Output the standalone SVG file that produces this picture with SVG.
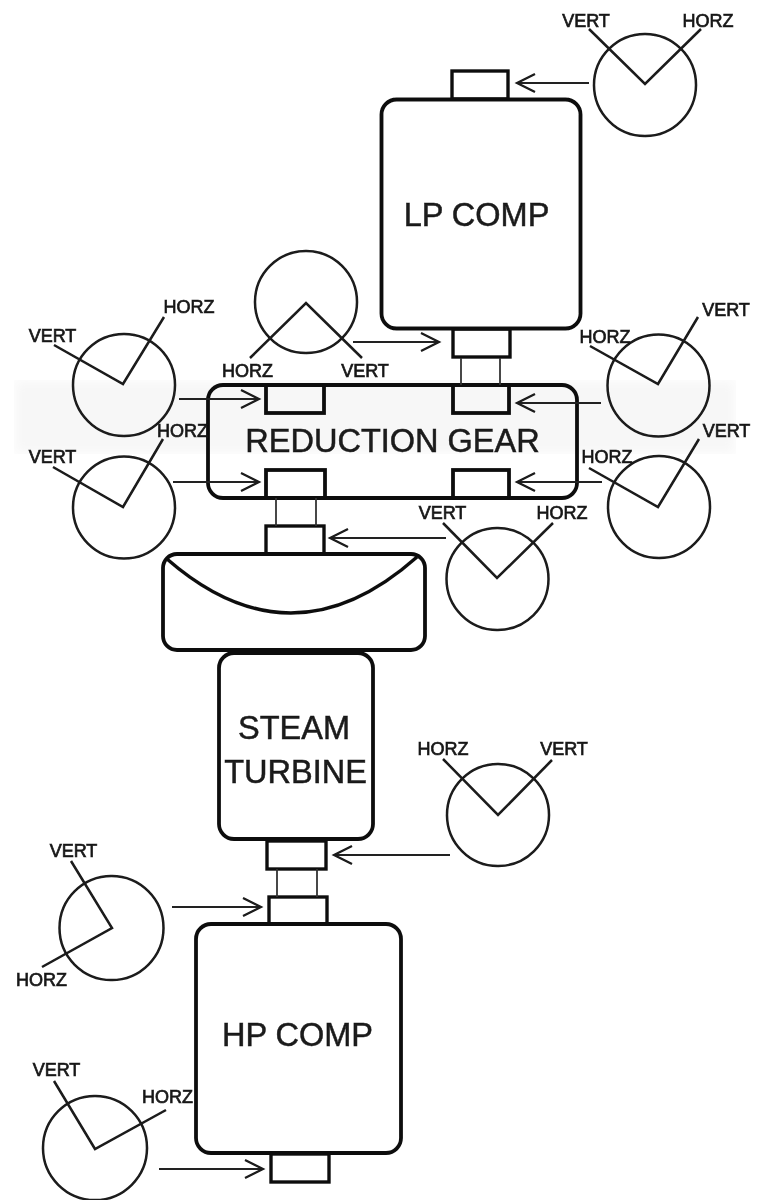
<svg xmlns="http://www.w3.org/2000/svg" width="763" height="1201" viewBox="0 0 763 1201">
<style>
.s{fill:none;stroke:#111;stroke-width:3.4}
.b{fill:none;stroke:#111;stroke-width:3.8}
.c{fill:none;stroke:#1a1a1a;stroke-width:2.5}
.p{fill:none;stroke:#1a1a1a;stroke-width:2.5}
.l{fill:none;stroke:#333;stroke-width:1.8}
.a{fill:none;stroke:#222;stroke-width:2}
.t{font-family:"Liberation Sans",Arial,sans-serif;fill:#1a1a1a;text-anchor:middle}
.m{font-size:32.5px;stroke:#1a1a1a;stroke-width:.5}
.n{font-size:18px;stroke:#1a1a1a;stroke-width:.7}
</style>
<defs>
<marker id="h" markerWidth="22" markerHeight="22" refX="19" refY="10" orient="auto" markerUnits="userSpaceOnUse"><path d="M1 1L19 10L1 19" fill="none" stroke="#1a1a1a" stroke-width="2.2"/></marker>
<filter id="soft" x="0" y="0" width="100%" height="100%"><feGaussianBlur stdDeviation="0.55"/></filter>
<filter id="haze" x="0" y="0" width="100%" height="100%"><feGaussianBlur stdDeviation="6"/></filter>
</defs>
<rect width="763" height="1201" fill="#fff"/>
<rect x="14" y="380" width="722" height="74" fill="#f7f7f7" filter="url(#haze)"/>
<g filter="url(#soft)">
<g id="lp-comp">
<rect class="s" x="452" y="71" width="56" height="28"/>
<rect class="b" x="381.5" y="99.5" width="199" height="229" rx="15"/>
<text class="t m" x="476.5" y="226">LP COMP</text>
<rect class="s" x="453" y="329" width="57" height="28"/>
</g>
<g id="reduction-gear">
<rect class="b" x="208" y="385" width="369" height="113" rx="15"/>
<rect class="b" x="266" y="385" width="58" height="28"/>
<rect class="b" x="453" y="385" width="56" height="28"/>
<rect class="b" x="266" y="470" width="59" height="28"/>
<rect class="b" x="453" y="470" width="56" height="28"/>
<text class="t m" x="392.5" y="452">REDUCTION GEAR</text>
</g>
<g id="coupling">
<rect class="s" x="266" y="526" width="58" height="28"/>
<rect class="b" x="163" y="554" width="262" height="96" rx="14"/>
<path class="s" d="M167 559Q292 668 417 557"/>
</g>
<g id="steam-turbine">
<rect class="b" x="219" y="653" width="154" height="186" rx="15"/>
<text class="t m" x="294" y="739">STEAM</text>
<text class="t m" x="295.5" y="783">TURBINE</text>
<rect class="s" x="267" y="841" width="59" height="28"/>
</g>
<g id="hp-comp">
<rect class="s" x="269" y="897" width="58" height="27"/>
<rect class="b" x="196" y="924" width="205" height="229" rx="15"/>
<text class="t m" x="297.5" y="1046">HP COMP</text>
<rect class="s" x="271" y="1154" width="58" height="28"/>
</g>
<g id="probe-lp-top"><circle class="c" cx="645" cy="85" r="51"/><path class="p" d="M589 29L645 84L701 29"/><text class="t n" x="586" y="27">VERT</text><text class="t n" x="708" y="27">HORZ</text></g>
<g id="probe-lp-bottom"><circle class="c" cx="306" cy="302" r="51"/><path class="p" d="M250 358L306 303L362 358"/><text class="t n" x="247.5" y="377">HORZ</text><text class="t n" x="365" y="377">VERT</text></g>
<g id="probe-left-1"><circle class="c" cx="124" cy="385" r="51"/><path class="p" d="M54 345L123 384L164 317"/><text class="t n" x="52.5" y="342">VERT</text><text class="t n" x="189" y="313">HORZ</text></g>
<g id="probe-left-2"><circle class="c" cx="124" cy="507.500" r="51"/><path class="p" d="M53 467L123 507L163 439"/><text class="t n" x="52.5" y="463">VERT</text><text class="t n" x="182.500" y="437">HORZ</text></g>
<g id="probe-right-1"><circle class="c" cx="658.500" cy="385.500" r="51"/><path class="p" d="M590 346L658 384L698 317"/><text class="t n" x="605" y="343">HORZ</text><text class="t n" x="726" y="316">VERT</text></g>
<g id="probe-right-2"><circle class="c" cx="659" cy="507" r="51"/><path class="p" d="M589 468L658 507L699 439"/><text class="t n" x="607" y="463">HORZ</text><text class="t n" x="726.500" y="437">VERT</text></g>
<g id="probe-turbine-top"><circle class="c" cx="497.500" cy="579" r="51"/><path class="p" d="M443 523L497 578L553 523"/><text class="t n" x="442.5" y="519">VERT</text><text class="t n" x="562" y="519">HORZ</text></g>
<g id="probe-turbine-bottom"><circle class="c" cx="498" cy="815" r="51"/><path class="p" d="M443 759L498 815L552 760"/><text class="t n" x="443" y="755">HORZ</text><text class="t n" x="564" y="755">VERT</text></g>
<g id="probe-hp-top"><circle class="c" cx="111.500" cy="928" r="52"/><path class="p" d="M71 861L112 928L42 967"/><text class="t n" x="73.5" y="857">VERT</text><text class="t n" x="41.5" y="986">HORZ</text></g>
<g id="probe-hp-bottom"><circle class="c" cx="95" cy="1148" r="52"/><path class="p" d="M54 1081L95 1149L166 1110"/><text class="t n" x="56.5" y="1076">VERT</text><text class="t n" x="167.500" y="1103">HORZ</text></g>
<g id="connectors">
<path class="l" d="M461 358V385M500 358V385M276 498V526M316 498V526M277 869V897M317 869V897"/>
<path class="a" marker-end="url(#h)" d="M589 83H517"/>
<path class="a" marker-end="url(#h)" d="M353 342H439"/>
<path class="a" marker-end="url(#h)" d="M179 399H259"/>
<path class="a" marker-end="url(#h)" d="M173 482H259"/>
<path class="a" marker-end="url(#h)" d="M601 403H517"/>
<path class="a" marker-end="url(#h)" d="M602 482H517"/>
<path class="a" marker-end="url(#h)" d="M446 538H330"/>
<path class="a" marker-end="url(#h)" d="M450 855H334"/>
<path class="a" marker-end="url(#h)" d="M172 907H261"/>
<path class="a" marker-end="url(#h)" d="M159 1169H263"/>
</g>
</g>
</svg>
